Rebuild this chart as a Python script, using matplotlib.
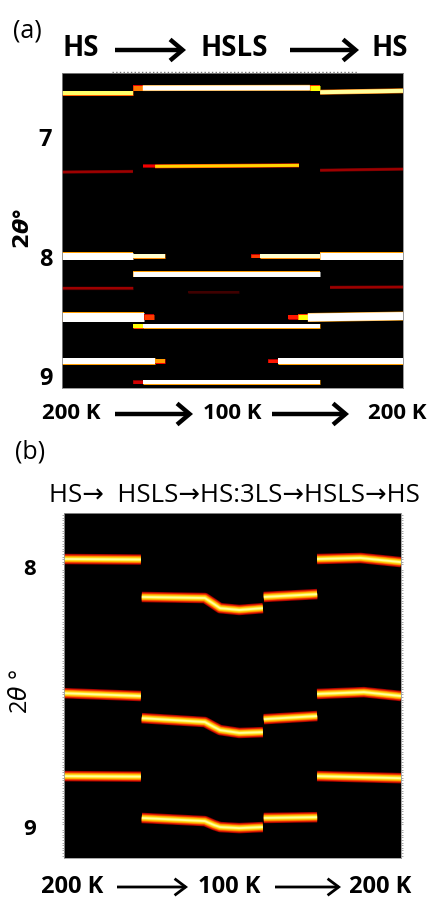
import matplotlib
matplotlib.use('Agg')
import matplotlib.pyplot as plt
from matplotlib.patches import FancyArrowPatch
from matplotlib.ticker import MultipleLocator

W, H = 431, 899
plt.rcParams['font.family'] = ['Open Sans', 'DejaVu Sans']
plt.rcParams['mathtext.fontset'] = 'dejavusans'

# x: frame index along the 200 K -> 100 K -> 200 K run (0..100), y: 2theta in degrees
# panel (a): (frames, 2theta, relative intensity)
a_segments = [
    ([0, 20.8], [6.632, 6.632], 0.85),
    ([20.8, 23.7], [6.590, 6.590], 0.55),
    ([23.7, 72.7], [6.590, 6.588], 1.0),
    ([72.7, 75.7], [6.588, 6.588], 0.75),
    ([75.7, 100], [6.625, 6.613], 0.9),
    ([0, 20.8], [7.293, 7.288], 0.22),
    ([23.9, 27.3], [7.245, 7.245], 0.35),
    ([27.3, 69.5], [7.245, 7.237], 0.68),
    ([75.7, 100], [7.278, 7.268], 0.22),
    ([0, 20.8], [7.996, 7.996], 1.0),
    ([20.8, 30.2], [7.996, 7.996], 0.95),
    ([55.5, 58.0], [7.996, 7.996], 0.45),
    ([58.0, 75.7], [7.996, 7.996], 0.95),
    ([75.7, 100], [7.996, 7.996], 1.0),
    ([20.8, 75.7], [8.146, 8.146], 1.0),
    ([0, 20.8], [8.264, 8.264], 0.22),
    ([78.6, 100], [8.258, 8.255], 0.22),
    ([37, 52], [8.297, 8.297], 0.08),
    ([0, 24.0], [8.506, 8.506], 1.0),
    ([24.0, 27.0], [8.506, 8.506], 0.45),
    ([66.3, 69.2], [8.510, 8.510], 0.4),
    ([69.2, 72.1], [8.510, 8.510], 0.75),
    ([72.1, 100], [8.510, 8.498], 1.0),
    ([20.8, 23.7], [8.582, 8.582], 0.75),
    ([23.7, 75.7], [8.582, 8.582], 1.0),
    ([0, 27.3], [8.874, 8.874], 1.0),
    ([27.3, 30.2], [8.874, 8.874], 0.6),
    ([60.4, 63.3], [8.874, 8.874], 0.4),
    ([63.3, 100], [8.874, 8.874], 1.0),
    ([20.8, 23.7], [9.050, 9.050], 0.3),
    ([23.7, 75.7], [9.050, 9.050], 1.0),
]
# line thickness of each segment in pixels (style, same order as above)
a_widths = [4, 5, 5, 5, 4, 2.2, 2.5, 3, 2.2, 7, 4, 3, 4, 7, 5, 2.2, 2.2, 2, 9, 5, 4, 5, 8,
            4, 4, 6, 4, 3, 6, 3, 4]

# panel (b): peak tracks (frames, 2theta)
b_tracks = [
    ([0, 22.8], [7.969, 7.971]),
    ([75.1, 88, 100], [7.969, 7.965, 7.981]),
    ([23.1, 41.8, 44.5, 46.3, 52, 59.0], [8.115, 8.119, 8.142, 8.158, 8.165, 8.158]),
    ([59.3, 75.1], [8.115, 8.104]),
    ([0, 22.8], [8.485, 8.496]),
    ([75.1, 89, 100], [8.488, 8.481, 8.496]),
    ([23.1, 41.8, 44.5, 46.3, 52, 59.0], [8.581, 8.596, 8.615, 8.627, 8.638, 8.635]),
    ([59.3, 75.1], [8.585, 8.573]),
    ([0, 22.8], [8.804, 8.806]),
    ([75.1, 100], [8.804, 8.812]),
    ([23.1, 41.8, 44.5, 46.3, 52, 59.0], [8.965, 8.977, 8.992, 9.000, 9.004, 9.000]),
    ([59.3, 75.1], [8.965, 8.962]),
]

a_yticks = [7, 8, 9]
b_yticks = [8, 9]
a_phases = ['HS', 'HSLS', 'HS']
b_phases = 'HS→  HSLS→HS:3LS→HSLS→HS'
temps = ['200 K', '100 K', '200 K']

PT = 0.72  # points per pixel at dpi 100


def fx(px):
    return px / W


def fy(py):
    return 1 - py / H


def arrow(fig, x0, x1, y, lw, hl, hw):
    a = FancyArrowPatch((fx(x0), fy(y)), (fx(x1), fy(y)), transform=fig.transFigure,
                        arrowstyle='->,head_length={},head_width={}'.format(hl, hw),
                        mutation_scale=20, lw=lw, color='black', shrinkA=0, shrinkB=0,
                        joinstyle='miter', capstyle='butt')
    fig.add_artist(a)


fig = plt.figure(figsize=(W / 100, H / 100), dpi=100)
hot = plt.cm.hot

# ---- panel (a)
ax = fig.add_axes([fx(62), fy(388), fx(403) - fx(62), fy(73) - fy(388)])
ax.set_facecolor('black')
for (xs, ys, inten), w in zip(a_segments, a_widths):
    ax.plot(xs, ys, color=hot(0.6 * inten), lw=(w + 1.0) * PT, solid_capstyle='butt')
    ax.plot(xs, ys, color=hot(inten), lw=w * PT, solid_capstyle='butt')
ax.set_xlim(0, 100)
ax.set_ylim(9.1, 6.464)
ax.set_xticks([])
ax.set_yticks(a_yticks)
ax.set_yticklabels([str(t) for t in a_yticks], fontsize=17, fontweight='bold')
ax.tick_params(axis='y', length=0, pad=7)
for s in ax.spines.values():
    s.set_color('#888888')
    s.set_linewidth(0.6)
ax.plot([0.147, 0.868], [1.004, 1.004], transform=ax.transAxes, ls=':', color='#777777',
        lw=1, clip_on=False)
fig.text(fx(24), fy(228), r'$\mathbf{2}\boldsymbol{\theta}$°', rotation=90, fontsize=16,
         fontweight='bold', ha='center', va='center')

fig.text(fx(27), fy(31), '(a)', fontsize=18, ha='center', va='center')
for label, px in zip(a_phases, [81, 234, 390]):
    fig.text(fx(px), fy(48), label, fontsize=20, fontweight='bold', ha='center', va='center')
arrow(fig, 115, 186, 50, 3.2, 0.45, 0.38)
arrow(fig, 290, 359, 50, 3.2, 0.45, 0.38)
for label, px in zip(temps, [71, 232, 397]):
    fig.text(fx(px), fy(413), label, fontsize=16, fontweight='bold', ha='center', va='center')
arrow(fig, 115, 193, 414, 3.2, 0.45, 0.38)
arrow(fig, 272, 349, 414, 3.2, 0.45, 0.38)

# ---- panel (b)
bx = fig.add_axes([fx(64), fy(858), fx(401) - fx(64), fy(513) - fy(858)])
bx.set_facecolor('black')
glow = [(10.5, '#9a0000'), (9, '#e02000'), (7, '#ff6a00'), (5.5, '#ffb800'),
        (3.5, '#ffe830'), (1.8, '#ffff99')]
for xs, ys in b_tracks:
    for w, c in glow:
        bx.plot(xs, ys, color=c, lw=w * PT, solid_capstyle='butt', solid_joinstyle='round')
bx.set_xlim(0, 100)
bx.set_ylim(9.119, 7.792)
bx.set_xticks([])
bx.set_yticks(b_yticks)
bx.set_yticklabels([str(t) for t in b_yticks], fontsize=16, fontweight='bold')
bx.tick_params(axis='y', which='major', length=0, pad=20)
bx.yaxis.set_minor_locator(MultipleLocator(0.01))
bx.tick_params(axis='y', which='minor', length=1.5, width=0.6, color='#999999',
               left=True, right=True)
for s in bx.spines.values():
    s.set_color('#999999')
    s.set_linewidth(0.6)
fig.text(fx(21), fy(692), r'2$\theta$ °', rotation=90, fontsize=17, ha='center', va='center')

fig.text(fx(30), fy(452), '(b)', fontsize=18, ha='center', va='center')
fig.text(fx(234), fy(495), b_phases, fontsize=18.5, ha='center', va='center')
for label, px in zip(temps, [72, 229, 380]):
    fig.text(fx(px), fy(887), label, fontsize=17, fontweight='bold', ha='center', va='center')
arrow(fig, 117, 188, 887, 2.0, 0.4, 0.3)
arrow(fig, 275, 341, 887, 2.0, 0.4, 0.3)

fig.savefig('out.png', dpi=100)
